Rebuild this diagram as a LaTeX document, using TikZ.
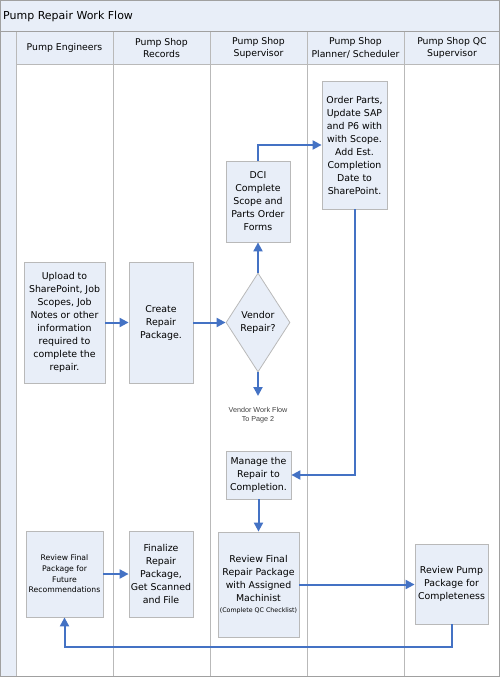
\documentclass[tikz,border=0pt]{standalone}
\usepackage{fontspec}
\setmainfont{DejaVu Sans}
\newfontfamily\arialf{Liberation Sans}
\usetikzlibrary{shapes.geometric,arrows.meta}
\definecolor{lb}{RGB}{232,238,248}
\definecolor{gr}{RGB}{185,185,185}
\definecolor{dg}{RGB}{160,160,160}
\definecolor{ab}{RGB}{68,114,196}
\begin{document}
\begin{tikzpicture}[x=1pt,y=-1pt,
  box/.style={draw=gr, fill=lb, line width=0.8pt, align=center, inner sep=0pt,
    font=\fontsize{9.4}{13}\selectfont},
  smallbox/.style={box, font=\fontsize{7.7}{10.7}\selectfont},
  decision/.style={diamond, draw=gr, fill=lb, line width=0.8pt, minimum width=64pt, minimum height=99pt, inner sep=0pt},
  hdr/.style={align=center, inner sep=0pt, font=\fontsize{9.3}{12.3}\selectfont},
  flow/.style={draw=ab, line width=2pt, -{Triangle[length=9pt,width=9pt]}},
  lane/.style={draw=gr, line width=0.8pt}]
\useasboundingbox (0,0) rectangle (500,677);
% background bands
\fill[lb] (0,0) rectangle (500,32);
\fill[lb] (0,32) rectangle (16,677);
\fill[lb] (16,32) rectangle (500,64);
\draw[dg, line width=1pt] (0,32) -- (500,32);
\draw[lane] (16,64) -- (500,64);
\foreach \x in {16,113,210,307,404} \draw[lane] (\x,32) -- (\x,677);
\draw[dg, line width=1pt] (0.5,0.5) rectangle (499.5,676.5);
% title and headers
\node[anchor=west, inner sep=0pt, font=\fontsize{11}{13}\selectfont] (title) at (3,16) {Pump Repair Work Flow};
\node[hdr] (h1) at (64.5,48) {Pump Engineers};
\node[hdr] (h2) at (161.5,48) {Pump Shop\\Records};
\node[hdr] (h3) at (258.5,48) {Pump Shop\\Supervisor};
\node[hdr] (h4) at (355.5,48) {Pump Shop\\Planner/ Scheduler};
\node[hdr] (h5) at (452,48) {Pump Shop QC\\Supervisor};
% boxes
\node[box, minimum width=81pt, minimum height=121pt] (upload) at (64.5,322.5)
  {Upload to\\SharePoint, Job\\Scopes, Job\\Notes or other\\information\\required to\\complete the\\repair.};
\node[box, minimum width=64pt, minimum height=121pt] (create) at (161,322.5) {Create\\Repair\\Package.};
\node[decision] (vendor) at (258,322.5) {};
\node[hdr, font=\fontsize{9.4}{13}\selectfont] (vendorlbl) at (vendor.center) {Vendor\\Repair?};
\node[box, minimum width=64pt, minimum height=81pt] (dci) at (258,201.5) {DCI\\Complete\\Scope and\\Parts Order\\Forms};
\node[box, minimum width=65pt, minimum height=128pt] (order) at (354.5,145)
  {Order Parts,\\Update SAP\\and P6 with\\with Scope.\\Add Est.\\Completion\\Date to\\SharePoint.};
\node[box, minimum width=65pt, minimum height=48pt] (manage) at (258.5,475) {Manage the\\Repair to\\Completion.};
\node[box, minimum width=81pt, minimum height=105pt] (rfr) at (258.5,584.5)
  {Review Final\\Repair Package\\with Assigned\\Machinist\\[-2pt]{\fontsize{6.3}{8}\selectfont(Complete QC Checklist)}};
\node[box, minimum width=73pt, minimum height=80pt] (rpump) at (451.5,584) {Review Pump\\Package for\\Completeness};
\node[smallbox, minimum width=77pt, minimum height=86pt] (rfp) at (64.5,574) {Review Final\\Package for\\Future\\Recommendations};
\node[box, minimum width=64pt, minimum height=86pt] (finalize) at (161,574) {Finalize\\Repair\\Package,\\Get Scanned\\and File};
\node[align=center, inner sep=0pt, font=\arialf\fontsize{7.2}{8.5}\selectfont, text=black!75] (vendtxt) at (258,415) {Vendor Work Flow\\To Page 2};
\coordinate (vendend) at (258,396);
\coordinate (ret) at (64.5,647);
% connectors
\draw[flow] (upload.east) -- (create.west);
\draw[flow] (create.east) -- (vendor.west);
\draw[flow] (vendor.north) -- (dci.south);
\draw[flow] (vendor.south) -- (vendend);
\draw[flow] (dci.north) |- (order.west);
\draw[flow] (order.south) |- (manage.east);
\draw[flow] (manage.south) -- (rfr.north);
\draw[flow] (rfr.east) -- (rpump.west |- rfr.east);
\draw[flow] (rpump.south) |- (ret) -- (rfp.south);
\draw[flow] (rfp.east) -- (finalize.west);
\end{tikzpicture}
\end{document}
